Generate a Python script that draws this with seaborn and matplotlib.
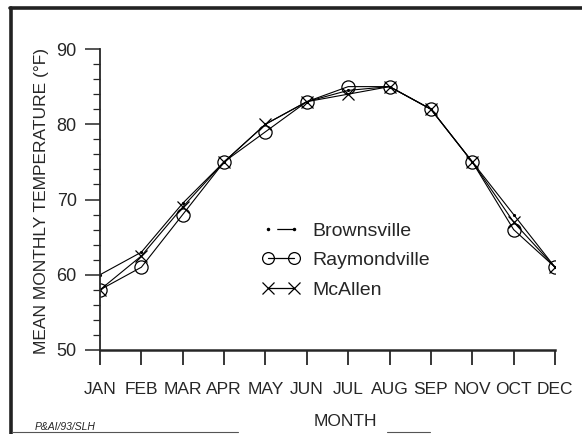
import matplotlib
matplotlib.use("Agg")
import matplotlib.pyplot as plt
from matplotlib.lines import Line2D
from matplotlib.ticker import MultipleLocator
import seaborn as sns
import pandas as pd

# Mean monthly temperature (deg F)
months = ["JAN", "FEB", "MAR", "APR", "MAY", "JUN", "JUL", "AUG", "SEP", "NOV", "OCT", "DEC"]
brownsville = [60, 63, 69.5, 75, 80, 83, 84.5, 85, 82, 75, 68, 61]
raymondville = [58, 61, 68, 75, 79, 83, 85, 85, 82, 75, 66, 61]
mcallen = [58, 62.5, 69, 75, 80, 83, 84, 85, 82, 75, 67, 61]
stations = ["Brownsville", "Raymondville", "McAllen"]

sns.set_style("ticks")
fam = ["Liberation Sans", "DejaVu Sans"]
plt.rcParams["font.family"] = fam

df = pd.DataFrame({"pos": list(range(len(months))) * 3,
                   "temp": brownsville + raymondville + mcallen,
                   "station": [s for s in stations for _ in months]})

fig = plt.figure(figsize=(5.82, 4.34), dpi=100)
ax = fig.add_axes([100 / 582, 1 - 350 / 434, 455 / 582, 301 / 434])

styles = {
    "Brownsville": dict(marker=".", markersize=3, mfc="black", mec="black"),
    "Raymondville": dict(marker="o", markersize=9.5, mfc="none", mec="black", mew=0.9),
    "McAllen": dict(marker="x", markersize=9, mec="black", mew=0.9),
}
for s in stations:
    sns.lineplot(data=df[df["station"] == s], x="pos", y="temp", ax=ax,
                 color="black", linewidth=0.8, legend=False, **styles[s])

ax.set_xlim(0, 11)
ax.set_ylim(50, 90)
ax.set_xticks(range(len(months)))
ax.set_xticklabels(months)
ax.yaxis.set_major_locator(MultipleLocator(10))
ax.yaxis.set_minor_locator(MultipleLocator(2))
ax.tick_params(axis="x", length=10.8, width=1.1, pad=12, labelsize=12.5, color="black")
ax.tick_params(axis="y", which="major", length=10.8, width=1.1, pad=6, labelsize=13)
ax.tick_params(axis="y", which="minor", length=5, width=0.9)
ax.set_xlabel("")
ax.set_ylabel("")
for side in ["top", "right"]:
    ax.spines[side].set_visible(False)
ax.spines["left"].set_linewidth(1.3)
ax.spines["bottom"].set_linewidth(1.8)

fig.text(345 / 582, 1 - 421 / 434, "MONTH", ha="center", va="center", fontsize=12.5)
fig.text(42 / 582, 1 - 201 / 434, "MEAN MONTHLY TEMPERATURE (\u00b0F)", rotation=90,
         ha="center", va="center", fontsize=12.5)
fig.text(35 / 582, 1 - 427 / 434, "P&AI/93/SLH", ha="left", va="center",
         fontsize=7.5, style="italic")

handles = [
    Line2D([], [], color="black", lw=0.9, linestyle=(20, (13, 14)), marker=".",
           markersize=3),
    Line2D([], [], color="black", lw=0.9, marker="o", markersize=8.5, mfc="none", mew=0.9),
    Line2D([], [], color="black", lw=0.9, marker="x", markersize=8.5, mew=0.9),
]
ax.legend(handles, stations, loc="upper left", bbox_to_anchor=(262 / 582, 1 - 222 / 434),
          bbox_transform=fig.transFigure, frameon=False, borderpad=0, borderaxespad=0,
          numpoints=2, handlelength=1.95, handletextpad=0.62, labelspacing=0.62,
          prop={"size": 14})

# scanned page frame
fig.add_artist(Line2D([11 / 582, 11 / 582], [0, 1 - 8 / 434], transform=fig.transFigure,
                      color="#222222", lw=2.6))
fig.add_artist(Line2D([10 / 582, 1], [1 - 8 / 434, 1 - 8 / 434], transform=fig.transFigure,
                      color="#222222", lw=2.6))
fig.add_artist(Line2D([12 / 582, 238 / 582], [1 - 432 / 434, 1 - 432 / 434],
                      transform=fig.transFigure, color="#555555", lw=0.8))
fig.add_artist(Line2D([387 / 582, 430 / 582], [1 - 432 / 434, 1 - 432 / 434],
                      transform=fig.transFigure, color="#555555", lw=0.8))

fig.savefig("out.png", dpi=100)
